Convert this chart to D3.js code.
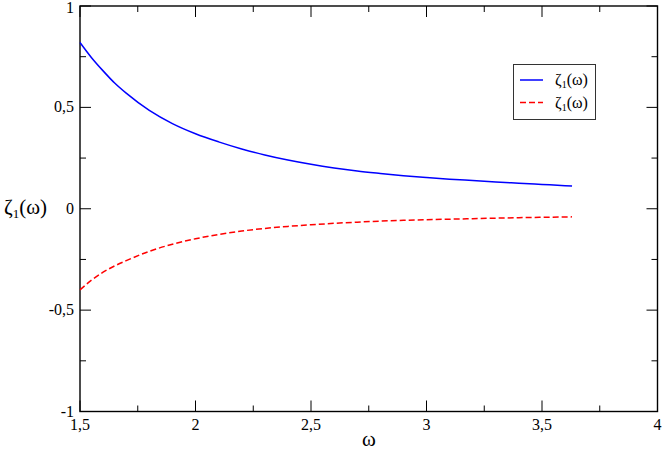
<!DOCTYPE html>
<html><head><meta charset="utf-8">
<script src="https://cdn.jsdelivr.net/npm/d3@7"></script>
<style>body{margin:0;background:#fff}svg{display:block}
svg text{font-family:"Liberation Serif","DejaVu Serif",serif !important}</style>
</head><body>
<script>
const omegaBlue = [1.5,1.55,1.6,1.65,1.7,1.8,1.9,2.0,2.1,2.2,2.3,2.4,2.5,2.6,2.7,2.8,2.9,3.0,3.1,3.2,3.3,3.4,3.5,3.6,3.63];
const zetaBlue  = [0.82,0.745,0.68,0.62,0.57,0.485,0.42,0.37,0.33,0.295,0.265,0.24,0.219,0.201,0.186,0.174,0.163,0.154,0.146,0.139,0.132,0.126,0.12,0.114,0.112];
const omegaRed  = [1.5,1.55,1.6,1.65,1.7,1.8,1.9,2.0,2.1,2.2,2.3,2.4,2.5,2.6,2.7,2.8,2.9,3.0,3.2,3.4,3.63];
const zetaRed   = [-0.40,-0.352,-0.313,-0.282,-0.256,-0.21,-0.175,-0.148,-0.127,-0.11,-0.097,-0.087,-0.079,-0.072,-0.066,-0.061,-0.057,-0.054,-0.049,-0.044,-0.04];
const xMajor = [1.5,2,2.5,3,3.5,4];
const xMajorLabels = ["1,5","2","2,5","3","3,5","4"];
const xMinor = [1.75,2.25,2.75,3.25,3.75];
const yMajor = [-1,-0.5,0,0.5,1];
const yMajorLabels = ["-1","-0,5","0","0,5","1"];
const yMinor = [-0.75,-0.25,0.25,0.75];
const legendLabels = ["ζ","ζ"];

const W=664,H=469;
const L=80,R=657.5,T=6,B=411.5;
const svg=d3.select("body").append("svg").attr("width",W).attr("height",H);
const x=d3.scaleLinear().domain([1.5,4]).range([L,R]);
const y=d3.scaleLinear().domain([-1,1]).range([B,T]);

// ticks (inward, all four sides)
const tk=svg.append("g").attr("stroke","#000").attr("stroke-width",1);
function vt(v,len){
  tk.append("line").attr("x1",x(v)).attr("x2",x(v)).attr("y1",B).attr("y2",B-len);
  tk.append("line").attr("x1",x(v)).attr("x2",x(v)).attr("y1",T).attr("y2",T+len);
}
function ht(v,len){
  tk.append("line").attr("y1",y(v)).attr("y2",y(v)).attr("x1",L).attr("x2",L+len);
  tk.append("line").attr("y1",y(v)).attr("y2",y(v)).attr("x1",R).attr("x2",R-len);
}
xMajor.forEach(v=>vt(v,11)); xMinor.forEach(v=>vt(v,6));
yMajor.forEach(v=>ht(v,11)); yMinor.forEach(v=>ht(v,6));

// frame
svg.append("rect").attr("x",L).attr("y",T).attr("width",R-L).attr("height",B-T)
  .attr("fill","none").attr("stroke","#000").attr("stroke-width",1.4);

// tick labels
svg.append("g").selectAll("text").data(xMajor).join("text")
  .attr("x",d=>x(d)).attr("y",B+18).attr("text-anchor","middle").attr("font-size",16)
  .text((d,i)=>xMajorLabels[i]);
svg.append("g").selectAll("text").data(yMajor).join("text")
  .attr("x",L-6).attr("y",d=>Math.max(y(d)+5,13)).attr("text-anchor","end").attr("font-size",16)
  .text((d,i)=>yMajorLabels[i]);

// axis titles
const yt=svg.append("text").attr("x",4).attr("y",214).attr("font-size",21);
yt.append("tspan").text("ζ");
yt.append("tspan").attr("font-size",13).attr("dy",4).text("1");
yt.append("tspan").attr("dy",-4).text("(ω)");
svg.append("text").attr("x",369).attr("y",446).attr("text-anchor","middle").attr("font-size",21).text("ω");

// curves
const line=d3.line().x(d=>x(d[0])).y(d=>y(d[1])).curve(d3.curveMonotoneX);
svg.append("path").datum(omegaBlue.map((w,i)=>[w,zetaBlue[i]])).attr("d",line)
  .attr("fill","none").attr("stroke","#0000ff").attr("stroke-width",1.5);
svg.append("path").datum(omegaRed.map((w,i)=>[w,zetaRed[i]])).attr("d",line)
  .attr("fill","none").attr("stroke","#ff0000").attr("stroke-width",1.5).attr("stroke-dasharray","6,3");

// legend
const lg=svg.append("g");
lg.append("rect").attr("x",513.5).attr("y",64.5).attr("width",82).attr("height",55)
  .attr("fill","#fff").attr("stroke","#333").attr("stroke-width",1);
const colors=["#0000ff","#ff0000"], dashes=[null,"6,3"];
legendLabels.forEach((t,i)=>{
  const yy=80+i*22.5;
  lg.append("line").attr("x1",520).attr("x2",543).attr("y1",yy).attr("y2",yy)
    .attr("stroke",colors[i]).attr("stroke-width",1.5).attr("stroke-dasharray",dashes[i]);
  const tx=lg.append("text").attr("x",555).attr("y",yy+5).attr("font-size",16);
  tx.append("tspan").text(t);
  tx.append("tspan").attr("font-size",10).attr("dy",3).text("1");
  tx.append("tspan").attr("dy",-3).text("(ω)");
});
</script>
</body></html>
